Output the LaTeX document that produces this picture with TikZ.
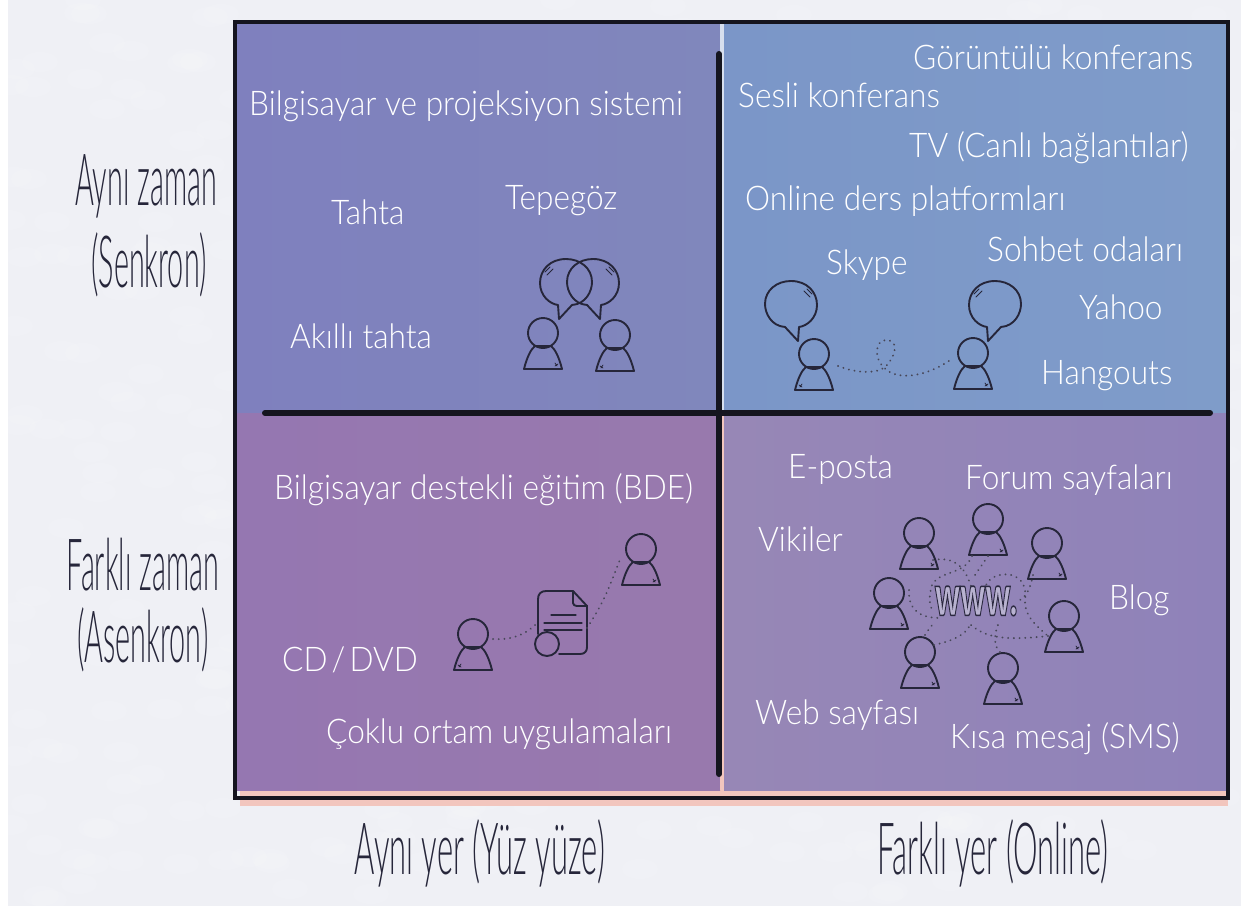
\documentclass[tikz,border=0pt]{standalone}
\usepackage{fontspec}
\setmainfont{Lato}[UprightFont=* Light,FakeStretch=0.93]
\newfontfamily\axisfont{Lato}[UprightFont=* Light,FakeStretch=0.40]
\newfontfamily\axisfontb{Lato}[UprightFont=* Light,FakeStretch=0.43]
\newfontfamily\wwwfont{Lato}[UprightFont=* Black]
\definecolor{ink}{HTML}{26263A}
\definecolor{line}{HTML}{15151F}
\definecolor{bgpage}{HTML}{EFF0F5}
\definecolor{pinkstrip}{HTML}{F2C6BE}
\definecolor{wwwfill}{HTML}{B8B2D0}
\definecolor{tla}{HTML}{7F80BE}\definecolor{tlb}{HTML}{8087BC}
\definecolor{tra}{HTML}{7B96C8}\definecolor{trb}{HTML}{7F9CC9}
\definecolor{bla}{HTML}{9577B1}\definecolor{blb}{HTML}{9879AD}
\definecolor{bra}{HTML}{9787B6}\definecolor{brb}{HTML}{8F82B9}
\tikzset{
  x=1pt,y=-1pt,
  inner/.style={text=white,font=\fontsize{34}{38}\selectfont,inner sep=0pt,anchor=base west,yshift=-2.5pt},
  axis/.style={text=ink,font=\axisfont\fontsize{72}{76}\selectfont,inner sep=0pt,anchor=base},
  axisb/.style={text=ink,font=\axisfontb\fontsize{72}{76}\selectfont,inner sep=0pt,anchor=base},
  sketch/.style={draw=ink,line width=1.9pt,line join=round,line cap=round},
  thinsk/.style={draw=ink,line width=0.8pt,line cap=round},
  dots/.style={draw=ink!85!white,line width=2pt,line cap=round,dash pattern=on 0.1pt off 5.6pt},
  person/.pic={
    \coordinate (-c) at (0,0);
    \draw[sketch] (0,0) circle [radius=15pt];
    \draw[sketch] (-19,36) -- (19,36) .. controls (16,24) and (12,16) .. (8,13) -- (-8,13) .. controls (-12,16) and (-16,24) .. cycle;
    \draw[thinsk] (12,33) -- (15,31) (12,30) -- (14,33);
  },
  bubble/.pic={
    \draw[sketch] (-6,22) .. controls (-20,21) and (-26,8) .. (-26,-1) .. controls (-26,-15) and (-14,-24) .. (0,-24) .. controls (16,-24) and (26,-13) .. (26,0) .. controls (26,13) and (16,21) .. (8,22) -- (7,36) -- cycle;
    \draw[thinsk] (13,-14) -- (19,-8) (16,-16) -- (21,-11);
  }
}
\begin{document}
\begin{tikzpicture}
\useasboundingbox (0,0) rectangle (1241,921);
\fill[white] (0,0) rectangle (1241,921);
\fill[bgpage] (8,0) rectangle (1241,906);
% soft blotches of the paper
\begin{scope}
\clip (8,0) rectangle (1241,906);
\pgfmathsetseed{7}
\foreach \i in {1,...,500}{
  \pgfmathsetmacro\px{8+random(0,1233)}
  \pgfmathsetmacro\py{random(0,900)}
  \fill[white,opacity=0.10] (\px,\py) ellipse [x radius=18pt,y radius=10pt];
}
\end{scope}
% quadrants
\fill[pinkstrip] (240,790) rectangle (1228,806);
\fill[left color=tla,right color=tlb] (236,22) rectangle (720,413);
\fill[left color=tra,right color=trb] (724,22) rectangle (1228,413);
\fill[left color=bla,right color=blb] (236,413) rectangle (720,790);
\fill[left color=bra,right color=brb] (724,413) rectangle (1228,790);
\fill[white!70!tra] (720,22) rectangle (724,413);
\fill[pinkstrip] (720,413) rectangle (724,790);
% frame and cross
\draw[line,line width=4pt] (235,22) rectangle (1228,798);
\coordinate (vt) at (719,54);
\coordinate (vb) at (719,774);
\coordinate (hl) at (265,413);
\coordinate (hr) at (1210,413);
\draw[line,line width=6pt,line cap=round] (vt) -- (vb);
\draw[line,line width=6pt,line cap=round] (hl) -- (hr);
% top left
\node[inner] (a1) at (249,113) {Bilgisayar ve projeksiyon sistemi};
\node[inner] (a2) at (331,222) {Tahta};
\node[inner] (a3) at (505,207) {Tepegöz};
\node[inner] (a4) at (290,346) {Akıllı tahta};
\pic (tl1) at (543,333) {person};
\pic[xscale=-1] (tl2) at (615,335) {person};
\pic[xscale=-1] at (566,283) {bubble};
\pic at (593,283) {bubble};
% top right
\node[inner] (b1) at (913,67) {Görüntülü konferans};
\node[inner] (b2) at (738,105) {Sesli konferans};
\node[inner] (b3) at (909,155) {TV (Canlı bağlantılar)};
\node[inner] (b4) at (745,208) {Online ders platformları};
\node[inner] (b5) at (826,272) {Skype};
\node[inner] (b6) at (987,259) {Sohbet odaları};
\node[inner] (b7) at (1079,317) {Yahoo};
\node[inner] (b8) at (1041,382) {Hangouts};
\pic[xscale=-1] (tr1) at (814,354) {person};
\pic (tr2) at (973,353) {person};
\pic at (791,305) {bubble};
\pic[xscale=-1] at (995,305) {bubble};
\draw[dots] (tr1-c) ++(24,12) .. controls (858,374) and (880,374) .. (887,365) .. controls (898,352) and (897,340) .. (886,340) .. controls (875,340) and (872,360) .. (888,371) .. controls (905,382) and (935,372) .. ([shift={(-20,5)}]tr2-c);
% bottom left
\node[inner] (c1) at (274,497) {Bilgisayar destekli eğitim (BDE)};
\node[inner] (c2) at (282,669) {CD\hspace{0.12em}/\hspace{0.12em}DVD};
\node[inner] (c3) at (326,741) {Çoklu ortam uygulamaları};
\pic[xscale=-1] (bl1) at (473,634) {person};
\pic (bl2) at (641,549) {person};
\coordinate (doc) at (562,622);
\draw[sketch] (573,591) -- (546,591) .. controls (541,591) and (538,594) .. (538,599) -- (538,634) (559,654) -- (580,654) .. controls (585,654) and (587,651) .. (587,647) -- (587,606) -- (573,591);
\draw[sketch] (573,591) -- (573,603) .. controls (573,605) and (575,606) .. (577,606) -- (587,606);
\draw[sketch,line width=1.2pt] (551,615) -- (576,615) (544,623) -- (582,623) (544,630) -- (582,630);
\draw[sketch] (547,644) circle [radius=12pt];
\draw[dots] (bl1-c) ++(20,5) .. controls (510,640) and (525,636) .. ([xshift=-24pt]doc);
\draw[dots] ([xshift=25pt,yshift=-6pt]doc) .. controls (605,600) and (608,590) .. ([shift={(-20,8)}]bl2-c);
% bottom right
\node[inner] (d1) at (788,476) {E-posta};
\node[inner] (d2) at (965,487) {Forum sayfaları};
\node[inner] (d3) at (758,549) {Vikiler};
\node[inner] (d4) at (1109,607) {Blog};
\node[inner] (d5) at (755,722) {Web sayfası};
\node[inner] (d6) at (950,746) {Kısa mesaj (SMS)};
\pic (n1) at (919,533) {person};
\pic (n2) at (988,519) {person};
\pic (n3) at (1047,543) {person};
\pic (n4) at (889,593) {person};
\pic (n5) at (1064,616) {person};
\pic (n6) at (920,652) {person};
\pic (n7) at (1003,668) {person};
\draw[dots] (n1-c) ++(14,27) .. controls (960,555) and (968,575) .. (972,590);
\draw[dots] (n2-c) ++(-16,37) .. controls (965,575) and (940,570) .. (932,585) .. controls (928,598) and (930,605) .. (932,610);
\draw[dots] (n2-c) ++(0,37) -- (975,575);
\draw[dots] (n3-c) ++(-14,32) .. controls (1030,590) and (1026,596) .. (1020,600);
\draw[dots] (985,590) .. controls (985,570) and (1030,565) .. (1025,600) .. controls (1024,615) and (1035,625) .. ([shift={(-16,20)}]n5-c);
\draw[dots] (n4-c) ++(20,-3) .. controls (908,610) and (920,618) .. (940,618);
\draw[dots] (n5-c) ++(-16,20) .. controls (1010,640) and (985,640) .. (968,622);
\draw[dots] (n6-c) ++(14,-7) .. controls (955,640) and (965,635) .. (970,625);
\draw[dots] (n6-c) ++(5,-17) .. controls (928,630) and (932,625) .. (935,622);
\draw[dots] (n7-c) ++(-3,-16) .. controls (992,645) and (995,630) .. (1000,620);
\node[inner sep=0pt,text=wwwfill,font=\wwwfont\fontsize{56}{58}\selectfont] (www) at (976,601) {\scalebox{0.55}[1]{\special{pdf:code q 2 Tr 1.6 w 0.17 0.16 0.25 RG}www.\special{pdf:code Q}}};
% axis labels
\node[axis] (e1) at (146,205) {Aynı zaman};
\node[axis] (e2) at (149,287) {(Senkron)};
\node[axis] (e3) at (143,590) {Farklı zaman};
\node[axis] (e4) at (143,662) {(Asenkron)};
\node[axisb] (e5) at (480,874) {Aynı yer (Yüz yüze)};
\node[axisb] (e6) at (993,874) {Farklı yer (Online)};
\end{tikzpicture}
\end{document}
